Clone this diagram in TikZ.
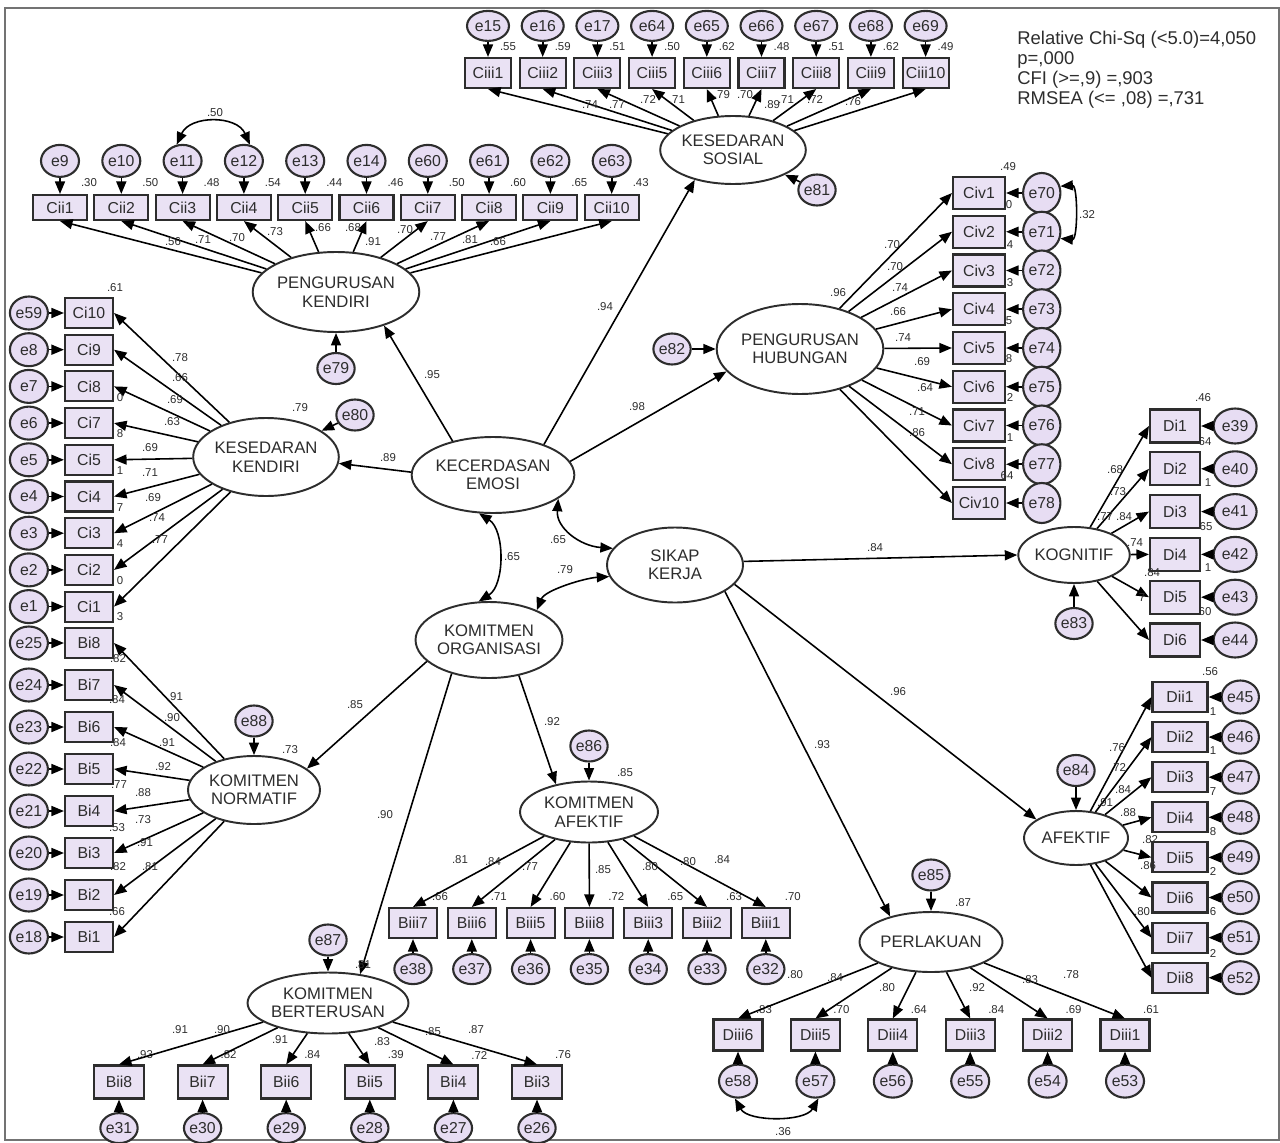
\documentclass[tikz,border=0pt]{standalone}
\usepackage{fontspec}
\setmainfont{Liberation Sans}
\usetikzlibrary{arrows.meta, positioning, shapes.geometric, backgrounds}

\definecolor{boxfill}{RGB}{234,226,244}
\definecolor{errfill}{RGB}{231,221,243}
\definecolor{ink}{RGB}{45,45,45}

\begin{document}
\begin{tikzpicture}[
        x=0.02cm, y=-0.02cm,
        ind/.style={rectangle, draw=ink, line width=1.2pt, fill=boxfill, inner sep=0pt, text=ink, font=\fontsize{9}{10}\selectfont},
        err/.style={ellipse, draw=ink, line width=1.2pt, fill=errfill, inner sep=0pt, text=ink, font=\fontsize{9}{10}\selectfont},
        res/.style={err, minimum width=0.7cm, minimum height=0.62cm},
        lat/.style={ellipse, draw=ink, line width=1.1pt, fill=white, inner sep=0pt, align=center, text=ink, font=\fontsize{9.5}{10.5}\selectfont},
        num/.style={inner sep=0pt, text=ink, font=\fontsize{6.5}{7}\selectfont},
        load/.style={->, line width=0.9pt},
        cov/.style={<->, line width=0.9pt},
        >={Triangle[length=2.5mm, width=2mm]}
      ]

      \useasboundingbox (0,0) rectangle (1280,1142);
      \draw[black!55, line width=0.6pt] (5,8) rectangle (1279,1140);

      % Fit indices
      \node[anchor=north west, align=left, inner sep=0pt, text=ink, font=\fontsize{10.5}{11.4}\selectfont] (stats) at (1017,31)
        {Relative Chi-Sq (<5.0)=4,050\\p=,000\\CFI (>=,9) =,903\\RMSEA (<= ,08) =,731};

      % Latent variables
      \node[lat, minimum width=2.74cm, minimum height=1.52cm] (KE) at (493,475) {KECERDASAN\\EMOSI};
      \node[lat, minimum width=2.72cm, minimum height=1.5cm] (SK) at (675,565) {SIKAP\\KERJA};
      \node[lat, minimum width=2.7cm, minimum height=1.52cm] (KO) at (489,640) {KOMITMEN\\ORGANISASI};
      \node[lat, minimum width=3cm, minimum height=1.6cm] (PK) at (336,292) {PENGURUSAN\\KENDIRI};
      \node[lat, minimum width=2.48cm, minimum height=1.56cm] (KK) at (266,457) {KESEDARAN\\KENDIRI};
      \node[lat, minimum width=2.64cm, minimum height=1.36cm] (KS) at (733,150) {KESEDARAN\\SOSIAL};
      \node[lat, minimum width=2.92cm, minimum height=1.8cm] (PH) at (800,349) {PENGURUSAN\\HUBUNGAN};
      \node[lat, minimum width=2.16cm, minimum height=1.12cm] (KOG) at (1074,555) {KOGNITIF};
      \node[lat, minimum width=2.08cm, minimum height=1.08cm] (AF) at (1076,838) {AFEKTIF};
      \node[lat, minimum width=2.46cm, minimum height=1.2cm] (PL) at (931,942) {PERLAKUAN};
      \node[lat, minimum width=2.64cm, minimum height=1.36cm] (KN) at (254,790) {KOMITMEN\\NORMATIF};
      \node[lat, minimum width=2.76cm, minimum height=1.22cm] (KA) at (589,812) {KOMITMEN\\AFEKTIF};
      \node[lat, minimum width=2.76cm, minimum height=1.22cm] (KB) at (328,1003) {KOMITMEN\\BERTERUSAN};

      % Residuals of the latent variables
      \node[res, below=0.38cm of PK] (e79) {e79};
      \node[res] (e80) at (355,415) {e80};
      \node[res] (e81) at (817,190) {e81};
      \node[res, left=0.48cm of PH] (e82) {e82};
      \node[res, below=0.46cm of KOG] (e83) {e83};
      \node[res, above=0.46cm of AF] (e84) {e84};
      \node[res, above=0.39cm of PL] (e85) {e85};
      \node[res, above=0.36cm of KA] (e86) {e86};
      \node[res, above=0.3cm of KB] (e87) {e87};
      \node[res, above=0.35cm of KN] (e88) {e88};

      \draw[load] (e79) -- (PK);
      \draw[load] (e80) -- (KK);
      \draw[load] (e81) -- (KS);
      \draw[load] (e82) -- (PH);
      \draw[load] (e83) -- (KOG);
      \draw[load] (e84) -- (AF);
      \draw[load] (e85) -- (PL);
      \draw[load] (e86) -- (KA);
      \draw[load] (e87) -- (KB);
      \draw[load] (e88) -- (KN);

      % Structural paths
      \draw[load] (KE.140) -- (PK.-35);
      \draw[load] (KE.31) -- (KS.218);
      \draw[load] (KE.10) -- (PH.197);
      \draw[load] (KE.178) -- (KK.-5);
      \draw[load] (KO.199) -- (KN.22);
      \draw[load] (KO.222) -- (KB.42);
      \draw[load] (KO.-50) -- (KA.140);
      \draw[load] (SK.3) -- (KOG.180);
      \draw[load] (SK.-18) -- (AF.155);
      \draw[load] (SK.-28) -- (PL.148);

      % Correlations
      \draw[cov] (KE.250) .. controls (505,530) and (505,585) .. (KO.105);
      \draw[cov] (KE.-20) .. controls (556,528) and (580,546) .. (SK.165);
      \draw[cov] (SK.190) .. controls (585,578) and (545,590) .. (KO.32);

      % Kesedaran sosial
      \foreach \vi/\ei/\ri [count=\k from 0] in {1/15/.55, 2/16/.59, 3/17/.51, 5/64/.50, 6/65/.62, 7/66/.48, 8/67/.51, 9/68/.62, 10/69/.49} {
        \node[ind, minimum width=0.92cm, minimum height=0.6cm] (ciii\vi) at ({488+54.7*\k},73) {Ciii\vi};
        \node[err, minimum width=0.84cm, minimum height=0.6cm, above=0.3cm of ciii\vi] (e\ei) {e\ei};
        \node[num] (rciii\vi) at ({508+54.7*\k},47) {\ri};
        \draw[load] (e\ei) -- (ciii\vi);
        \draw[load] (KS) -- (ciii\vi.south);
      }

      % Pengurusan kendiri
      \foreach \vi/\ei/\ri [count=\k from 0] in {1/9/.30, 2/10/.50, 3/11/.48, 4/12/.54, 5/13/.44, 6/14/.46, 7/60/.50, 8/61/.60, 9/62/.65, 10/63/.43} {
        \node[ind, minimum width=1.08cm, minimum height=0.5cm] (cii\vi) at ({60+61.3*\k},207.5) {Cii\vi};
        \node[err, minimum width=0.76cm, minimum height=0.64cm, above=0.32cm of cii\vi] (e\ei) {e\ei};
        \node[num] (rcii\vi) at ({89+61.3*\k},183) {\ri};
        \draw[load] (e\ei) -- (cii\vi);
        \draw[load] (PK) -- (cii\vi.south);
      }
      \draw[cov] (e11.110) .. controls (190,115) and (237,115) .. (e12.70);

      % Kesedaran kendiri
      \foreach \vi/\ei [count=\k from 0] in {10/59, 9/8, 8/7, 7/6, 5/5, 4/4, 3/3, 2/2, 1/1} {
        \node[ind, minimum width=0.96cm, minimum height=0.6cm] (ci\vi) at (89,{313+36.7*\k}) {Ci\vi};
        \node[err, minimum width=0.76cm, minimum height=0.66cm, left=0.3cm of ci\vi] (e\ei) {e\ei};
        \draw[load] (e\ei) -- (ci\vi);
        \draw[load] (KK) -- (ci\vi.east);
      }

      % Komitmen normatif
      \foreach \vi/\ei [count=\k from 0] in {8/25, 7/24, 6/23, 5/22, 4/21, 3/20, 2/19, 1/18} {
        \node[ind, minimum width=0.96cm, minimum height=0.6cm] (bi\vi) at (89,{643+42*\k}) {Bi\vi};
        \node[err, minimum width=0.76cm, minimum height=0.66cm, left=0.3cm of bi\vi] (e\ei) {e\ei};
        \draw[load] (e\ei) -- (bi\vi);
        \draw[load] (KN) -- (bi\vi.east);
      }

      % Pengurusan hubungan
      \foreach \vi/\ei [count=\k from 0] in {1/70, 2/71, 3/72, 4/73, 5/74, 6/75, 7/76, 8/77, 10/78} {
        \node[ind, minimum width=1.04cm, minimum height=0.64cm] (civ\vi) at (979,{193+38.75*\k}) {Civ\vi};
        \node[err, minimum width=0.64cm, minimum height=0.8cm, right=0.32cm of civ\vi] (e\ei) {e\ei};
        \draw[load] (e\ei) -- (civ\vi);
        \draw[load] (PH) -- (civ\vi.west);
      }
      \draw[cov] (e70.20) .. controls (1078,185) and (1078,240) .. (e71.-20);

      % Kognitif
      \foreach \vi/\ei [count=\k from 0] in {1/39, 2/40, 3/41, 4/42, 5/43, 6/44} {
        \node[ind, minimum width=1cm, minimum height=0.66cm] (di\vi) at (1175,{426+42.8*\k}) {Di\vi};
        \node[err, minimum width=0.86cm, minimum height=0.7cm, right=0.23cm of di\vi] (e\ei) {e\ei};
        \draw[load] (e\ei) -- (di\vi);
        \draw[load] (KOG) -- (di\vi.west);
      }

      % Afektif
      \foreach \vi/\ei [count=\k from 0] in {1/45, 2/46, 3/47, 4/48, 5/49, 6/50, 7/51, 8/52} {
        \node[ind, minimum width=1.1cm, minimum height=0.6cm] (dii\vi) at (1180,{697+40.1*\k}) {Dii\vi};
        \node[err, minimum width=0.74cm, minimum height=0.66cm, right=0.24cm of dii\vi] (e\ei) {e\ei};
        \draw[load] (e\ei) -- (dii\vi);
        \draw[load] (AF) -- (dii\vi.west);
      }

      % Komitmen afektif
      \foreach \vi/\ei/\ri [count=\k from 0] in {7/38/.66, 6/37/.71, 5/36/.60, 8/35/.72, 3/34/.65, 2/33/.63, 1/32/.70} {
        \node[ind, minimum width=0.96cm, minimum height=0.6cm] (biii\vi) at ({413+58.8*\k},923) {Biii\vi};
        \node[err, minimum width=0.66cm, minimum height=0.6cm, below=0.28cm of biii\vi] (e\ei) {e\ei};
        \node[num] (rbiii\vi) at ({440+58.8*\k},897) {\ri};
        \draw[load] (e\ei) -- (biii\vi);
        \draw[load] (KA) -- (biii\vi.north);
      }

      % Komitmen berterusan
      \foreach \vi/\ei/\ri [count=\k from 0] in {8/31/.93, 7/30/.82, 6/29/.84, 5/28/.39, 4/27/.72, 3/26/.76} {
        \node[ind, minimum width=1cm, minimum height=0.66cm] (bii\vi) at ({119+83.6*\k},1082) {Bii\vi};
        \node[err, minimum width=0.68cm, minimum height=0.6cm, below=0.25cm of bii\vi] (e\ei) {e\ei};
        \node[num] (rbii\vi) at ({145+83.6*\k},1055) {\ri};
        \draw[load] (e\ei) -- (bii\vi);
        \draw[load] (KB) -- (bii\vi.north);
      }

      % Perlakuan
      \foreach \vi/\ei/\ri [count=\k from 0] in {6/58/.83, 5/57/.70, 4/56/.64, 3/55/.84, 2/54/.69, 1/53/.61} {
        \node[ind, minimum width=0.98cm, minimum height=0.62cm] (diii\vi) at ({738+77.4*\k},1035) {Diii\vi};
        \node[err, minimum width=0.76cm, minimum height=0.66cm, below=0.24cm of diii\vi] (e\ei) {e\ei};
        \node[num] (rdiii\vi) at ({764+77.4*\k},1010) {\ri};
        \draw[load] (e\ei) -- (diii\vi);
        \draw[load] (PL) -- (diii\vi.north);
      }
      \draw[cov] (e58.-100) .. controls (748,1122) and (805,1122) .. (e57.-80);

      % Squared multiple correlations in the stacked columns
      \foreach \lx/\ly/\lt [count=\k] in {115/288/.61, 120/398/0, 120/434/8, 120/471/1, 120/508/7, 120/544/4, 120/581/0, 120/617/3,
          118/659/.82, 117/700/.84, 118/743/.84, 119/785/.77, 117/828/.53, 118/867/.82, 117/912/.66,
          1008/167/.49, 1009/205/0, 1010/245/4, 1010/283/3, 1009/321/5, 1009/359/8, 1010/398/2, 1010/438/1, 1007/476/64,
          1203/398/.46, 1205/442/64, 1208/483/1, 1206/527/65, 1208/568/1, 1205/612/60,
          1210/672/.56, 1213/712/1, 1213/751/1, 1213/792/7, 1213/832/8, 1213/872/2, 1213/912/6, 1213/953/2} {
        \node[num] (sq\k) at (\lx,\ly) {\lt};
      }

      % Factor loadings
      \foreach \lx/\ly/\lt [count=\k] in {590/105/.74, 617/105/.77, 648/100/.72, 677/100/.71, 722/95/.79, 745/95/.70, 772/105/.89, 786/100/.71, 815/100/.72, 853/102/.76,
          173/242/.56, 203/240/.71, 237/238/.70, 275/232/.73, 323/228/.66, 353/228/.68, 373/242/.91, 405/230/.70, 438/237/.77, 470/240/.81, 498/242/.66,
          180/358/.78, 180/378/.66, 175/400/.69, 172/422/.63, 150/448/.69, 150/473/.71, 153/498/.69, 157/518/.74, 160/540/.77,
          175/697/.91, 172/718/.90, 167/743/.91, 163/767/.92, 143/793/.88, 143/820/.73, 145/843/.91, 150/867/.81,
          892/245/.70, 895/267/.70, 900/288/.74, 898/312/.66, 903/338/.74, 922/362/.69, 925/388/.64, 917/412/.71, 917/433/.86,
          1115/470/.68, 1118/492/.73, 1105/517/.77, 1124/517/.84, 1135/543/.74, 1152/573/.84, 1142/598/7,
          1117/748/.76, 1118/768/.72, 1123/790/.84, 1105/803/.91, 1128/813/.88, 1150/840/.82, 1148/866/.86, 1142/912/.80,
          460/860/.81, 493/862/.84, 530/867/.77, 603/870/.85, 650/867/.80, 688/862/.80, 722/860/.84,
          180/1030/.91, 222/1030/.90, 280/1040/.91, 382/1042/.83, 433/1032/.85, 476/1030/.87,
          795/975/.80, 835/978/.84, 887/988/.80, 977/988/.92, 1030/980/.83, 1071/975/.78} {
        \node[num] (ld\k) at (\lx,\ly) {\lt};
      }

      % Path coefficients, correlations and latent R-squares
      \foreach \lx/\ly/\lt [count=\k] in {432/375/.95, 605/307/.94, 637/407/.98, 388/458/.89, 875/548/.84, 898/692/.96, 822/745/.93,
          355/705/.85, 385/815/.90, 552/722/.92, 512/557/.65, 558/540/.65, 565/570/.79,
          215/113/.50, 1087/215/.32, 783/1132/.36,
          300/408/.79, 838/293/.96, 625/773/.85, 290/750/.73, 963/903/.87, 363/965/.81} {
        \node[num] (pc\k) at (\lx,\ly) {\lt};
      }

\end{tikzpicture}
\end{document}
